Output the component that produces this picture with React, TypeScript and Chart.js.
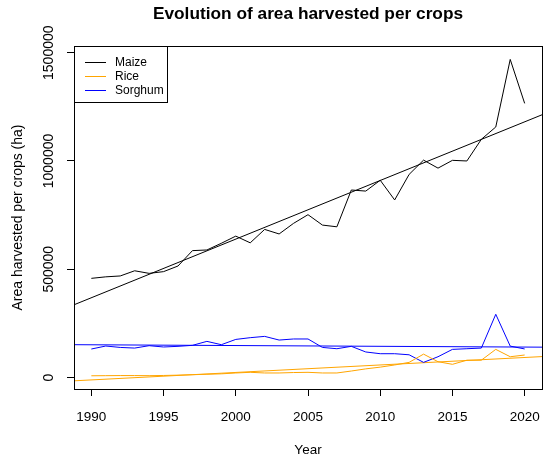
import React, { useEffect, useRef } from "react";
import { Chart, registerables } from "chart.js";

Chart.register(...registerables);

const years = [
  1990, 1991, 1992, 1993, 1994, 1995, 1996, 1997, 1998, 1999, 2000, 2001, 2002, 2003, 2004, 2005,
  2006, 2007, 2008, 2009, 2010, 2011, 2012, 2013, 2014, 2015, 2016, 2017, 2018, 2019, 2020,
];
const maize = [
  458000, 465000, 469000, 493000, 481000, 489000, 515000, 586000, 589000, 620000, 653000, 622000,
  684000, 663000, 712000, 752000, 704000, 696000, 866000, 861000, 911000, 820000, 938000, 1004000,
  967000, 1003000, 1000000, 1100000, 1157000, 1469000, 1266000,
];
const rice = [
  8000, 8500, 9000, 9000, 8500, 9500, 11000, 13000, 15000, 17000, 21000, 24000, 21000, 21000, 23000,
  24000, 21000, 21000, 30000, 40000, 48000, 58000, 70000, 108000, 73000, 61000, 80000, 80000, 130000,
  96000, 104000,
];
const sorghum = [
  131600, 145500, 139000, 136000, 147000, 141000, 144000, 148600, 167000, 151600, 176000, 184000,
  190000, 173000, 178000, 178000, 139000, 133000, 144000, 118000, 110000, 110000, 105000, 70000,
  96000, 130000, 133000, 136000, 292000, 145000, 132000,
];
const seriesNames = ["Maize", "Rice", "Sorghum"];
const seriesColors = ["#000000", "#FFA500", "#0000FF"];
const xTicks = [1990, 1995, 2000, 2005, 2010, 2015, 2020];
const yTicks = [0, 500000, 1000000, 1500000];
const xRange = [1988.8, 2021.2];
const yRange = [-53000, 1531000];

const titleText = "Evolution of area harvested per crops";
const xTitle = "Year";
const yTitle = "Area harvested per crops (ha)";

function fit(xs: number[], ys: number[]) {
  const n = xs.length;
  const mx = xs.reduce((a, b) => a + b, 0) / n;
  const my = ys.reduce((a, b) => a + b, 0) / n;
  let sxy = 0;
  let sxx = 0;
  for (let i = 0; i < n; i++) {
    sxy += (xs[i] - mx) * (ys[i] - my);
    sxx += (xs[i] - mx) * (xs[i] - mx);
  }
  const b = sxy / sxx;
  const a = my - b * mx;
  return xRange.map((x) => ({ x, y: a + b * x }));
}

const FONT = "'Liberation Sans', Arial, sans-serif";

const decorPlugin = {
  id: "decor",
  afterDraw(chart: any) {
    const ctx = chart.ctx as CanvasRenderingContext2D;
    const { left, right, top, bottom } = chart.chartArea;
    const yScale = chart.scales.y;
    ctx.save();
    // frame
    ctx.strokeStyle = "#000";
    ctx.lineWidth = 1;
    ctx.strokeRect(Math.round(left) + 0.5, Math.round(top) + 0.5, Math.round(right - left), Math.round(bottom - top));
    // y tick labels (rotated)
    ctx.fillStyle = "#000";
    ctx.font = `14px ${FONT}`;
    ctx.textAlign = "center";
    ctx.textBaseline = "middle";
    yTicks.forEach((v) => {
      const py = yScale.getPixelForValue(v);
      ctx.save();
      ctx.translate(49, py);
      ctx.rotate(-Math.PI / 2);
      ctx.fillText(String(v), 0, 0);
      ctx.restore();
    });
    // title
    ctx.font = `bold 17.3px ${FONT}`;
    ctx.fillText(titleText, (left + right) / 2, 14);
    // axis titles
    ctx.font = `13.5px ${FONT}`;
    ctx.fillText(xTitle, (left + right) / 2, 450);
    ctx.font = `14px ${FONT}`;
    ctx.save();
    ctx.translate(18, (top + bottom) / 2);
    ctx.rotate(-Math.PI / 2);
    ctx.fillText(yTitle, 0, 0);
    ctx.restore();
    // legend
    const lx = Math.round(left) + 0.5;
    const ly = Math.round(top) + 0.5;
    ctx.strokeStyle = "#000";
    ctx.strokeRect(lx, ly, 93, 56);
    ctx.textAlign = "left";
    ctx.font = `12px ${FONT}`;
    seriesNames.forEach((name, i) => {
      const rowY = 62 + i * 14;
      ctx.strokeStyle = seriesColors[i];
      ctx.lineWidth = 1;
      ctx.beginPath();
      ctx.moveTo(85, rowY + 0.5);
      ctx.lineTo(106, rowY + 0.5);
      ctx.stroke();
      ctx.fillStyle = "#000";
      ctx.fillText(name, 115, rowY + 1);
    });
    ctx.restore();
  },
};

export default function App() {
  const ref = useRef<HTMLCanvasElement | null>(null);
  useEffect(() => {
    if (!ref.current) return;
    const seriesData = [maize, rice, sorghum];
    const datasets: any[] = [];
    seriesData.forEach((vals, i) => {
      datasets.push({
        label: seriesNames[i],
        data: years.map((x, j) => ({ x, y: vals[j] })),
        borderColor: seriesColors[i],
        borderWidth: 1,
        pointRadius: 0,
        fill: false,
        tension: 0,
      });
    });
    seriesData.forEach((vals, i) => {
      datasets.push({
        label: seriesNames[i] + " trend",
        data: fit(years, vals),
        borderColor: seriesColors[i],
        borderWidth: 1,
        pointRadius: 0,
        fill: false,
        tension: 0,
      });
    });
    const chart = new Chart(ref.current, {
      type: "line",
      data: { datasets },
      options: {
        animation: false,
        responsive: false,
        devicePixelRatio: 1,
        layout: { padding: { left: 0, right: 8, top: 46, bottom: 0 } },
        plugins: { legend: { display: false }, title: { display: false }, tooltip: { enabled: false } },
        scales: {
          x: {
            type: "linear",
            min: xRange[0],
            max: xRange[1],
            afterBuildTicks: (s: any) => {
              s.ticks = xTicks.map((v) => ({ value: v }));
            },
            afterFit: (s: any) => {
              s.height = 74;
              s.paddingLeft = 0;
              s.paddingRight = 0;
            },
            border: { display: false },
            grid: { drawOnChartArea: false, drawTicks: true, tickLength: 7, color: "#000" },
            ticks: {
              color: "#000",
              font: { family: FONT, size: 13.5 },
              padding: 13,
              maxRotation: 0,
              callback: (v: any) => String(v),
            },
          },
          y: {
            type: "linear",
            min: yRange[0],
            max: yRange[1],
            afterBuildTicks: (s: any) => {
              s.ticks = yTicks.map((v) => ({ value: v }));
            },
            afterFit: (s: any) => {
              s.width = 74;
              s.paddingTop = 0;
              s.paddingBottom = 0;
            },
            border: { display: false },
            grid: { drawOnChartArea: false, drawTicks: true, tickLength: 7, color: "#000" },
            ticks: { display: false },
          },
        },
      },
      plugins: [decorPlugin],
    });
    return () => chart.destroy();
  }, []);
  return (
    <div style={{ position: "absolute", left: 0, top: 0, width: 550, height: 463, background: "#fff" }}>
      <canvas ref={ref} width={550} height={463} />
    </div>
  );
}
